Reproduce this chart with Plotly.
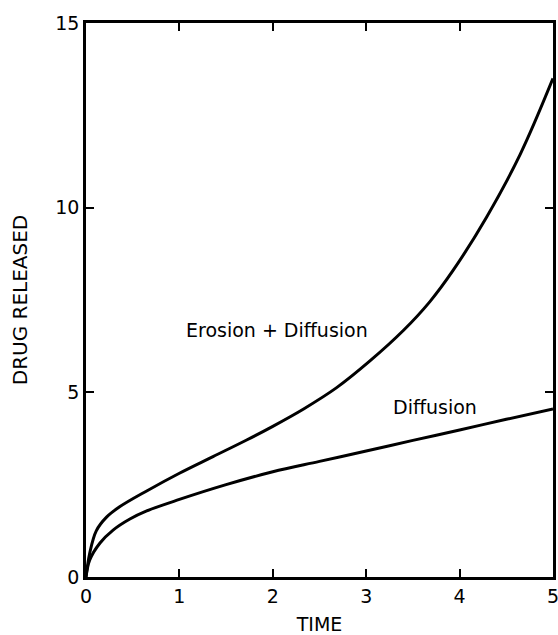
import plotly.graph_objects as go

# values
time_erosion = [0, 0.04, 0.11, 0.22, 0.36, 0.65, 1.0, 1.36, 1.72, 2.0, 2.33,
                2.68, 3.04, 3.40, 3.68, 3.93, 4.29, 4.65, 5.0]
drug_erosion = [0, 0.65, 1.25, 1.62, 1.9, 2.33, 2.81, 3.26, 3.71, 4.08, 4.55,
                5.12, 5.85, 6.68, 7.45, 8.3, 9.75, 11.45, 13.5]

time_diffusion = [0, 0.04, 0.15, 0.29, 0.47, 0.65, 1.0, 1.5, 2.0, 2.5,
                  3.0, 3.5, 4.0, 4.5, 5.0]
drug_diffusion = [0, 0.46, 0.92, 1.27, 1.57, 1.79, 2.1, 2.5, 2.85, 3.13,
                  3.41, 3.7, 3.98, 4.27, 4.55]

x_ticks = [0, 1, 2, 3, 4, 5]
y_ticks = [0, 5, 10, 15]

FONT = "DejaVu Sans"

fig = go.Figure()
fig.add_trace(go.Scatter(x=time_erosion, y=drug_erosion, mode="lines",
                         line=dict(color="black", width=3, shape="spline", smoothing=1),
                         name="Erosion + Diffusion", showlegend=False))
fig.add_trace(go.Scatter(x=time_diffusion, y=drug_diffusion, mode="lines",
                         line=dict(color="black", width=3, shape="spline", smoothing=1),
                         name="Diffusion", showlegend=False))

fig.add_annotation(x=2.04, y=6.68, text="Erosion + Diffusion", showarrow=False,
                   font=dict(family=FONT, size=19, color="black"))
fig.add_annotation(x=3.74, y=4.6, text="Diffusion", showarrow=False,
                   font=dict(family=FONT, size=19, color="black"))

axis_style = dict(
    showline=True, linecolor="black", linewidth=2.5, mirror="ticks",
    ticks="inside", ticklen=8, tickwidth=2, tickcolor="black",
    showgrid=False, zeroline=False, automargin=False,
    ticklabeloverflow="allow",
    tickfont=dict(family=FONT, size=19, color="black"),
)

fig.update_xaxes(range=[0, 5], tickvals=x_ticks,
                 title=dict(text="TIME", font=dict(family=FONT, size=19, color="black"),
                            standoff=16),
                 **axis_style)
fig.update_yaxes(range=[0, 15], tickvals=y_ticks,
                 title=dict(text="DRUG RELEASED", font=dict(family=FONT, size=20, color="black"),
                            standoff=23),
                 **axis_style)

fig.update_layout(
    width=558, height=635,
    margin=dict(l=86, r=5, t=23, b=58),
    plot_bgcolor="white", paper_bgcolor="white",
)

# drop the page's default body margin so the figure fills the window
fig.write_html("out.html", config={"displayModeBar": False},
               post_script="document.body.style.margin='0';"
                           "document.body.style.overflow='hidden';")
